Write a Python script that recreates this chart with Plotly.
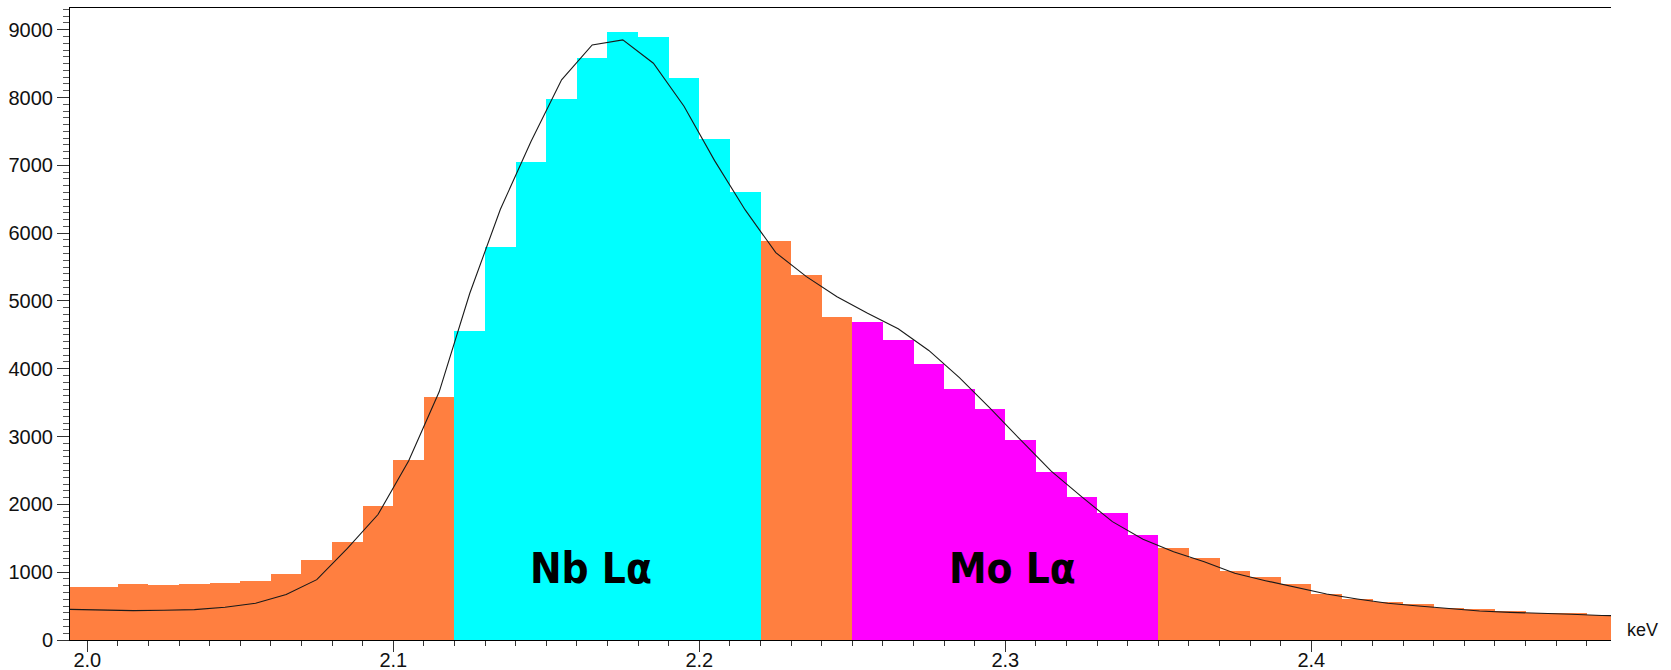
import plotly.graph_objects as go

# ---- data ----
# left edges of the 10 eV channels (keV)
channel_left = [1.99, 2.00, 2.01, 2.02, 2.03, 2.04, 2.05, 2.06, 2.07, 2.08,
                2.09, 2.10, 2.11, 2.12, 2.13, 2.14, 2.15, 2.16, 2.17, 2.18,
                2.19, 2.20, 2.21, 2.22, 2.23, 2.24, 2.25, 2.26, 2.27, 2.28,
                2.29, 2.30, 2.31, 2.32, 2.33, 2.34, 2.35, 2.36, 2.37, 2.38,
                2.39, 2.40, 2.41, 2.42, 2.43, 2.44, 2.45, 2.46, 2.47, 2.48,
                2.49]
counts = [786, 786, 831, 816, 831, 846, 870, 978, 1175, 1440,
          1971, 2650, 3577, 4558, 5801, 7050, 7984, 8579, 8963, 8899,
          8284, 7394, 6608, 5885, 5376, 4769, 4695, 4425, 4071, 3702,
          3402, 2950, 2473, 2110, 1868, 1553, 1357, 1205, 1018, 925,
          821, 678, 600, 565, 526, 477, 452, 423, 398, 393,
          364]
channel_width = 0.01

# fitted curve
fit_kev = [1.99, 1.995, 2.005, 2.015, 2.025, 2.035, 2.045, 2.055, 2.065, 2.075,
           2.085, 2.095, 2.105, 2.115, 2.125, 2.135, 2.145, 2.155, 2.165, 2.175,
           2.185, 2.195, 2.205, 2.215, 2.225, 2.235, 2.245, 2.255, 2.265, 2.275,
           2.285, 2.295, 2.305, 2.315, 2.325, 2.335, 2.345, 2.355, 2.365, 2.375,
           2.385, 2.395, 2.405, 2.415, 2.425, 2.435, 2.445, 2.455, 2.465, 2.475,
           2.485, 2.495, 2.50]
fit_counts = [455, 450, 435, 433, 438, 448, 482, 541, 670, 890,
              1350, 1850, 2640, 3660, 5113, 6352, 7350, 8260, 8776, 8850,
              8506, 7871, 7069, 6342, 5712, 5359, 5063, 4818, 4590, 4270,
              3870, 3420, 2950, 2490, 2110, 1745, 1485, 1302, 1155, 983,
              875, 771, 678, 605, 541, 501, 462, 428, 408, 388,
              379, 362, 358]

# element windows: label, low edge, high edge, colour, label x, label y
peaks = [("Nb Lα", 2.12, 2.22, "#00FFFF", 2.1645, 1060),
         ("Mo Lα", 2.25, 2.35, "#FF00FF", 2.3025, 1060)]
background_color = "#FF7F40"

x_ticks = [2.0, 2.1, 2.2, 2.3, 2.4]
x_tick_text = ["2.0", "2.1", "2.2", "2.3", "2.4"]
y_ticks = [0, 1000, 2000, 3000, 4000, 5000, 6000, 7000, 8000, 9000]
x_unit = "keV"

# ---- figure ----
W, H = 1671, 670
ML, MR, MT, MB = 70, 60, 8, 30

centers = [e + channel_width / 2 for e in channel_left]
colors = []
for e in channel_left:
    c = background_color
    for name, lo, hi, col, _, _ in peaks:
        if lo - 1e-9 <= e < hi - 1e-9:
            c = col
    colors.append(c)

fig = go.Figure()
fig.add_trace(go.Bar(x=centers, y=counts, width=channel_width,
                     marker=dict(color=colors, line=dict(width=0)),
                     hoverinfo="skip", showlegend=False))
fig.add_trace(go.Scatter(x=fit_kev, y=fit_counts, mode="lines",
                         line=dict(color="#1a1a1a", width=1.1),
                         hoverinfo="skip", showlegend=False))

for name, lo, hi, col, tx, ty in peaks:
    fig.add_annotation(x=tx, y=ty, xref="x", yref="y", text=name,
                       showarrow=False, yanchor="middle", xanchor="center",
                       font=dict(family="Liberation Sans Narrow, DejaVu Sans Condensed, Arial Narrow, sans-serif",
                                 size=42, color="#000000", weight="bold"))

fig.add_annotation(xref="paper", yref="paper",
                   x=(1642 - ML) / (W - ML - MR), y=(H - MB - 630) / (H - MB - MT),
                   text=x_unit, showarrow=False, xanchor="center", yanchor="middle",
                   font=dict(family="Liberation Sans, Arial, sans-serif", size=18, color="#111"))

axis_font = dict(family="Liberation Sans, Arial, sans-serif", color="#111111")
fig.update_layout(
    width=W, height=H,
    margin=dict(l=ML, r=MR, t=MT, b=MB, autoexpand=False),
    paper_bgcolor="white", plot_bgcolor="white",
    bargap=0,
    xaxis=dict(range=[1.99435, 2.49794], tickvals=x_ticks, ticktext=x_tick_text,
               automargin=False,
               ticks="outside", ticklen=11, tickwidth=1, tickcolor="#333",
               ticklabelstandoff=-9,
               showline=True, linecolor="#000", linewidth=1, mirror=True,
               showgrid=False, zeroline=False,
               tickfont=dict(size=20, **axis_font),
               minor=dict(dtick=0.01, tick0=2.0, ticks="outside", ticklen=5,
                          tickcolor="#333", tickwidth=1, showgrid=False)),
    yaxis=dict(range=[0, 9320], tickvals=y_ticks,
               automargin=False,
               ticks="outside", ticklen=12, tickwidth=1, tickcolor="#333",
               showline=True, linecolor="#000", linewidth=1, mirror=False,
               showgrid=False, zeroline=False,
               tickfont=dict(size=20, **axis_font),
               minor=dict(dtick=100, tick0=0, ticks="outside", ticklen=6,
                          tickcolor="#555", tickwidth=1, showgrid=False)),
)

fig.write_html("out.html")
